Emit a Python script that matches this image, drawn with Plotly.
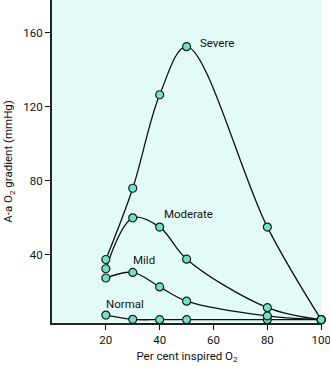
import plotly.graph_objects as go

x_severe = [20, 30, 40, 50, 80, 100]
y_severe = [37.5, 76, 126.5, 152.5, 55, 5]
x_moderate = [20, 30, 40, 50, 80, 100]
y_moderate = [32.5, 60, 55, 37.7, 11.5, 5]
x_mild = [20, 30, 40, 50, 80, 100]
y_mild = [27.5, 30.5, 22.7, 15, 7, 5]
x_normal = [20, 30, 40, 50, 80, 100]
y_normal = [7.5, 5.2, 5, 5, 5, 5]

labels = ["Severe", "Moderate", "Mild", "Normal"]
label_x = [54.2, 40.9, 29.2, 19.2]
label_y = [154.4, 62, 37, 13.4]

FONT = "Roboto, Liberation Sans, Arial, sans-serif"

fig = go.Figure()
for xs, ys in [(x_normal, y_normal), (x_mild, y_mild), (x_moderate, y_moderate), (x_severe, y_severe)]:
    fig.add_trace(go.Scatter(
        x=xs, y=ys, mode="lines+markers",
        line=dict(color="#111111", width=1.3, shape="spline", smoothing=1.0),
        marker=dict(size=8, color="#6fe3c7", line=dict(color="#1a1a1a", width=1.2)),
        cliponaxis=False, showlegend=False, hoverinfo="skip",
    ))

for t, lx, ly in zip(labels, label_x, label_y):
    fig.add_annotation(x=lx, y=ly, text=t, showarrow=False, xanchor="left", yanchor="middle",
                       font=dict(size=11.5, color="#111111", family=FONT))

fig.update_layout(
    width=330, height=367,
    margin=dict(l=52, r=8, t=0, b=44),
    paper_bgcolor="white",
    plot_bgcolor="#e3fbf7",
    font=dict(family=FONT, size=11.5, color="#111111"),
)
fig.update_xaxes(
    range=[0, 100.3], tickvals=[20, 40, 60, 80, 100], ticks="outside", ticklen=5, tickwidth=1.2,
    ticklabeloverflow="allow",
    tickcolor="#111111", showline=True, linecolor="#222222", linewidth=2, showgrid=False, zeroline=False,
    title=dict(text="Per cent inspired O<sub>2</sub>", standoff=6, font=dict(size=11.5)),
)
fig.update_yaxes(
    range=[3.2, 177.7], tickvals=[40, 80, 120, 160], ticks="outside", ticklen=5, tickwidth=1.2,
    tickcolor="#111111", showline=True, linecolor="#222222", linewidth=2, showgrid=False, zeroline=False,
    title=dict(text="A-a O<sub>2</sub> gradient (mmHg)", standoff=8, font=dict(size=11.5)),
)

fig.write_html("out.html")
